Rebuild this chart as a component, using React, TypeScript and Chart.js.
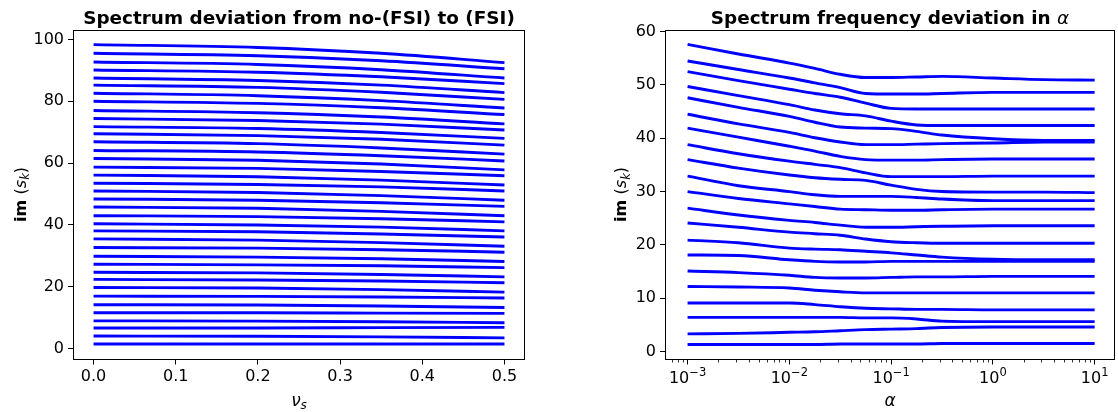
import React, { useEffect, useRef } from 'react';
import { Chart, registerables } from 'chart.js';

Chart.register(...registerables);

const FONT = "'DejaVu Sans', sans-serif";
const BLUE = '#0000ff';

// ---- Left panel: im(s_k) vs nu_s ----
const leftNu = [0, 0.2, 0.35, 0.5];
const leftModes: number[][] = [
  [1.5, 1.5, 1.5, 1.5],
  [4.1, 4.0, 3.8, 3.5],
  [6.7, 6.7, 6.8, 6.9],
  [9.0, 8.9, 8.7, 8.4],
  [11.6, 11.6, 11.5, 11.4],
  [14.2, 14.1, 13.8, 13.3],
  [17.0, 16.9, 16.7, 16.4],
  [19.8, 19.6, 19.1, 18.3],
  [22.4, 22.2, 21.9, 21.3],
  [24.7, 24.5, 24.0, 23.2],
  [27.3, 27.1, 26.8, 26.2],
  [29.9, 29.6, 29.1, 28.2],
  [32.7, 32.5, 32.0, 31.2],
  [35.5, 35.1, 34.3, 33.1],
  [38.1, 37.8, 37.1, 36.1],
  [40.4, 40.0, 39.3, 38.1],
  [43.0, 42.7, 42.0, 41.0],
  [45.8, 45.4, 44.4, 43.0],
  [48.4, 48.0, 47.2, 46.0],
  [51.0, 50.5, 49.5, 48.0],
  [53.5, 53.1, 52.3, 51.0],
  [56.1, 55.6, 54.5, 52.9],
  [58.7, 58.3, 57.3, 55.9],
  [61.5, 60.9, 59.7, 57.8],
  [64.1, 63.6, 62.4, 60.7],
  [66.9, 66.3, 64.9, 62.9],
  [69.5, 68.9, 67.7, 65.8],
  [71.8, 71.2, 69.9, 68.0],
  [74.4, 73.8, 72.6, 70.7],
  [77.0, 76.3, 74.9, 72.7],
  [80.0, 79.3, 77.9, 75.7],
  [82.6, 81.8, 80.2, 77.8],
  [85.2, 84.5, 82.9, 80.6],
  [87.5, 86.7, 85.2, 82.8],
  [90.1, 89.4, 87.9, 85.7],
  [92.7, 91.9, 90.2, 87.5],
  [95.5, 94.7, 93.1, 90.5],
  [98.3, 97.4, 95.5, 92.5],
];
const leftXTicks = [0, 0.1, 0.2, 0.3, 0.4, 0.5];
const leftYTicks = [0, 20, 40, 60, 80, 100];

// ---- Right panel: im(s_k) vs alpha (log) ----
const rightAlpha = [0.001, 0.00316, 0.01, 0.0178, 0.0316, 0.0562, 0.1, 0.178, 0.316, 1, 3.16, 10];
const rightModes: number[][] = [
  [57.6, 55.8, 54.1, 53.1, 52.0, 51.4, 51.4, 51.5, 51.6, 51.3, 51.0, 50.9],
  [54.5, 52.9, 51.3, 50.4, 49.5, 48.4, 48.3, 48.3, 48.4, 48.6, 48.6, 48.6],
  [52.5, 50.8, 49.2, 48.4, 47.7, 46.6, 45.6, 45.5, 45.5, 45.5, 45.5, 45.5],
  [49.7, 48.0, 46.3, 45.3, 44.6, 44.2, 43.2, 42.5, 42.4, 42.4, 42.4, 42.4],
  [47.6, 45.8, 44.1, 43.0, 42.1, 41.9, 41.8, 41.3, 40.6, 39.9, 39.6, 39.6],
  [44.5, 42.7, 41.1, 40.1, 39.3, 38.8, 38.8, 38.9, 39.0, 39.1, 39.3, 39.3],
  [41.9, 40.2, 38.5, 37.6, 36.6, 36.0, 35.9, 35.9, 36.0, 36.1, 36.1, 36.1],
  [38.8, 37.1, 35.7, 35.1, 34.5, 33.5, 32.8, 32.8, 32.8, 32.9, 32.9, 32.9],
  [36.0, 34.4, 33.1, 32.6, 32.3, 32.1, 31.2, 30.4, 30.0, 29.9, 29.9, 29.8],
  [32.9, 31.1, 30.0, 29.4, 29.1, 29.1, 29.1, 28.9, 28.6, 28.3, 28.3, 28.3],
  [30.0, 28.7, 27.7, 27.2, 26.7, 26.6, 26.5, 26.5, 26.6, 26.7, 26.7, 26.7],
  [26.9, 25.6, 24.6, 24.2, 23.7, 23.3, 23.3, 23.4, 23.5, 23.6, 23.6, 23.6],
  [24.1, 23.3, 22.4, 22.1, 21.8, 21.1, 20.6, 20.4, 20.3, 20.3, 20.3, 20.3],
  [20.9, 20.4, 19.4, 19.2, 19.1, 18.8, 18.5, 18.1, 17.7, 17.3, 17.2, 17.2],
  [18.1, 18.0, 17.2, 16.9, 16.8, 16.8, 16.9, 16.9, 16.9, 16.9, 16.9, 16.9],
  [15.1, 14.8, 14.3, 13.9, 13.8, 13.8, 13.9, 14.0, 14.0, 14.1, 14.1, 14.1],
  [12.2, 12.1, 11.9, 11.5, 11.2, 11.0, 11.0, 11.0, 11.0, 11.0, 11.0, 11.0],
  [9.1, 9.1, 9.1, 8.8, 8.4, 8.1, 8.0, 7.9, 7.9, 7.8, 7.8, 7.8],
  [6.4, 6.4, 6.4, 6.4, 6.4, 6.3, 6.3, 6.1, 5.7, 5.6, 5.6, 5.6],
  [3.3, 3.4, 3.6, 3.7, 3.9, 4.1, 4.2, 4.3, 4.5, 4.6, 4.6, 4.6],
  [1.3, 1.3, 1.3, 1.3, 1.4, 1.4, 1.4, 1.4, 1.5, 1.5, 1.5, 1.5],
];
const rightXTicks = [0.001, 0.01, 0.1, 1, 10];
const rightXExponents = ['\u22123', '\u22122', '\u22121', '0', '1'];
const rightYTicks = [0, 10, 20, 30, 40, 50, 60];
const rightMinorTicks: number[] = [];
for (let e = -4; e <= 1; e++) {
  for (let m = 2; m <= 9; m++) {
    const v = m * Math.pow(10, e);
    if (v > Math.pow(10, -3.2) && v < Math.pow(10, 1.2)) rightMinorTicks.push(v);
  }
}

const leftTitle = 'Spectrum deviation from no-(FSI) to (FSI)';
const rightTitle = 'Spectrum frequency deviation in ';

const TICK_FONT = { family: FONT, size: 16 };

type Piece = { t: string; f: string; dy?: number };

function drawRich(ctx: CanvasRenderingContext2D, pieces: Piece[], cx: number, cy: number, rot: number) {
  ctx.save();
  ctx.translate(cx, cy);
  if (rot) ctx.rotate(rot);
  ctx.textBaseline = 'alphabetic';
  ctx.textAlign = 'left';
  ctx.fillStyle = '#000';
  let total = 0;
  const widths = pieces.map((p) => {
    ctx.font = p.f;
    const w = ctx.measureText(p.t).width;
    total += w;
    return w;
  });
  let x = -total / 2;
  pieces.forEach((p, i) => {
    ctx.font = p.f;
    ctx.fillText(p.t, x, p.dy || 0);
    x += widths[i];
  });
  ctx.restore();
}

const textPlugin = {
  id: 'texts',
  afterDraw(chart: any, _args: any, opts: any) {
    const { ctx, chartArea: a } = chart;
    ctx.save();
    // frame (all four spines)
    ctx.strokeStyle = '#000';
    ctx.lineWidth = 1;
    const l = Math.round(a.left) + 0.5;
    const t = Math.round(a.top) + 0.5;
    const r = Math.round(a.right) - 0.5;
    const b = Math.round(a.bottom) - 0.5;
    ctx.strokeRect(l, t, r - l, b - t);
    const cxA = (a.left + a.right) / 2;
    const cyA = (a.top + a.bottom) / 2;
    const xs = chart.scales.x;

    if (opts.kind === 'right') {
      // minor ticks on log axis
      ctx.lineWidth = 0.8;
      ctx.beginPath();
      for (const v of rightMinorTicks) {
        const px = Math.round(xs.getPixelForValue(v)) + 0.5;
        ctx.moveTo(px, b);
        ctx.lineTo(px, b + 3);
      }
      ctx.stroke();
      // major tick labels 10^k
      rightXTicks.forEach((v, i) => {
        const px = xs.getPixelForValue(v);
        drawRich(
          ctx,
          [
            { t: '10', f: `16px ${FONT}` },
            { t: rightXExponents[i], f: `11.5px ${FONT}`, dy: -7.5 },
          ],
          px,
          383,
          0
        );
      });
      drawRich(
        ctx,
        [
          { t: rightTitle, f: `bold 18.4px ${FONT}` },
          { t: '\u03B1', f: `italic 18.4px ${FONT}` },
        ],
        cxA,
        23.5,
        0
      );
      drawRich(ctx, [{ t: '\u03B1', f: `italic 17px ${FONT}` }], cxA, 405.5, 0);
    } else {
      drawRich(ctx, [{ t: leftTitle, f: `bold 18.4px ${FONT}` }], cxA, 23.5, 0);
      drawRich(
        ctx,
        [
          { t: '\u03BD', f: `italic 17px ${FONT}` },
          { t: 's', f: `italic 12px ${FONT}`, dy: 3 },
        ],
        cxA,
        405.5,
        0
      );
    }
    // y-axis title: im (s_k)
    drawRich(
      ctx,
      [
        { t: 'im ', f: `bold 16px ${FONT}` },
        { t: '(', f: `16px ${FONT}` },
        { t: 's', f: `italic 16px ${FONT}` },
        { t: 'k', f: `italic 11.5px ${FONT}`, dy: 3.5 },
        { t: ')', f: `16px ${FONT}` },
      ],
      opts.kind === 'right' ? 66 : 25.5,
      cyA,
      -Math.PI / 2
    );
    ctx.restore();
  },
};

function gridOpts() {
  return {
    display: true,
    drawOnChartArea: false,
    drawTicks: true,
    tickLength: 5,
    color: '#000',
    lineWidth: 1,
  };
}

function makeConfig(kind: 'left' | 'right'): any {
  const isLeft = kind === 'left';
  const xVals = isLeft ? leftNu : rightAlpha;
  const rows = isLeft ? leftModes : rightModes;
  const datasets = rows.map((row) => ({
    data: row.map((y, i) => ({ x: xVals[i], y })),
    borderColor: BLUE,
    borderWidth: 2.9,
    pointRadius: 0,
    fill: false,
    cubicInterpolationMode: 'monotone',
  }));

  const xScale: any = isLeft
    ? {
        type: 'linear',
        min: -0.025,
        max: 0.525,
        afterBuildTicks: (s: any) => {
          s.ticks = leftXTicks.map((v) => ({ value: v }));
        },
        ticks: {
          font: TICK_FONT,
          color: '#000',
          padding: 3,
          maxRotation: 0,
          autoSkip: false,
          callback: (v: any) => Number(v).toFixed(1),
        },
      }
    : {
        type: 'logarithmic',
        min: Math.pow(10, -3.2),
        max: Math.pow(10, 1.2),
        afterBuildTicks: (s: any) => {
          s.ticks = rightXTicks.map((v) => ({ value: v, major: true }));
        },
        ticks: {
          font: TICK_FONT,
          color: '#000',
          padding: 3,
          maxRotation: 0,
          autoSkip: false,
          callback: () => '',
        },
      };
  Object.assign(xScale, {
    position: 'bottom',
    grid: gridOpts(),
    border: { display: false },
    afterFit: (s: any) => {
      s.height = 52.5;
    },
    title: { display: false },
  });

  const yTicks = isLeft ? leftYTicks : rightYTicks;
  const yScale: any = {
    type: 'linear',
    position: 'left',
    min: isLeft ? -3.5 : -1.5,
    max: isLeft ? 103.2 : 60.4,
    afterBuildTicks: (s: any) => {
      s.ticks = yTicks.map((v) => ({ value: v }));
    },
    afterFit: (s: any) => {
      s.width = isLeft ? 73 : 105;
    },
    grid: gridOpts(),
    border: { display: false },
    ticks: {
      font: TICK_FONT,
      color: '#000',
      padding: 4,
      autoSkip: false,
      callback: (v: any) => String(v),
    },
    title: { display: false },
  };

  return {
    type: 'line',
    data: { datasets },
    plugins: [textPlugin],
    options: {
      animation: false,
      responsive: false,
      devicePixelRatio: 1,
      layout: { padding: { left: 0, right: isLeft ? 35 : 3, top: 29.5, bottom: 0 } },
      scales: { x: xScale, y: yScale },
      plugins: {
        legend: { display: false },
        tooltip: { enabled: false },
        title: { display: false },
        texts: { kind },
      },
    },
  };
}

export default function App() {
  const leftRef = useRef<HTMLCanvasElement>(null);
  const rightRef = useRef<HTMLCanvasElement>(null);

  useEffect(() => {
    const c1 = new Chart(leftRef.current as HTMLCanvasElement, makeConfig('left'));
    const c2 = new Chart(rightRef.current as HTMLCanvasElement, makeConfig('right'));
    return () => {
      c1.destroy();
      c2.destroy();
    };
  }, []);

  return (
    <div style={{ position: 'absolute', left: 0, top: 0, width: 1118, height: 412, background: '#fff' }}>
      <canvas
        ref={leftRef}
        width={560}
        height={412}
        style={{ position: 'absolute', left: 0, top: 0, width: 560, height: 412 }}
      />
      <canvas
        ref={rightRef}
        width={558}
        height={412}
        style={{ position: 'absolute', left: 560, top: 0, width: 558, height: 412 }}
      />
    </div>
  );
}
